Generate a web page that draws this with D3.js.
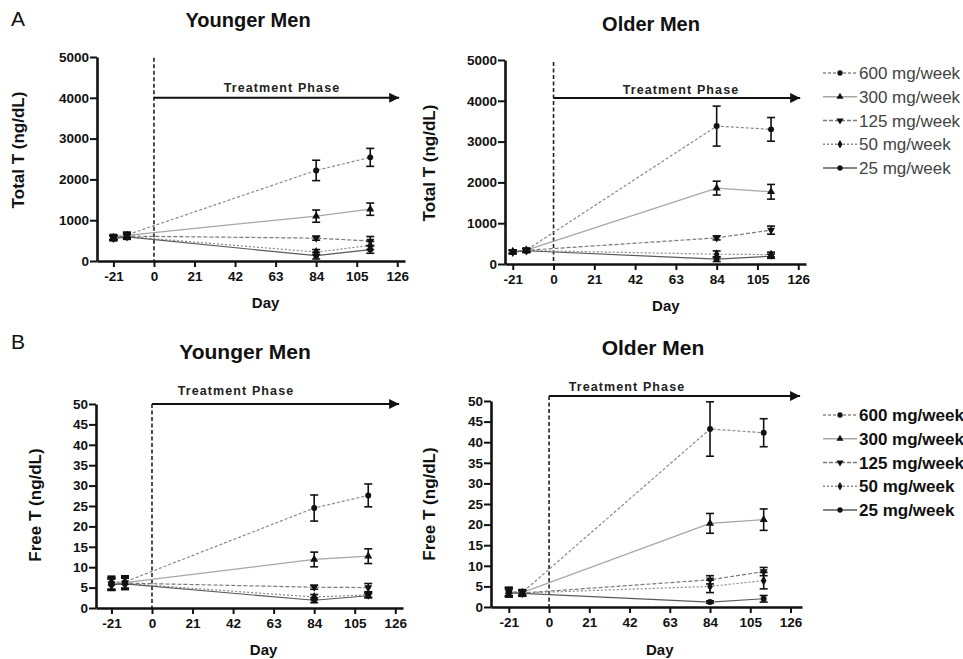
<!DOCTYPE html>
<html>
<head>
<meta charset="utf-8">
<script src="https://cdn.jsdelivr.net/npm/d3@7"></script>
<style>
  body { margin: 0; background: #fff; }
  svg { font-family: "Liberation Sans", Arial, sans-serif; }
  .axis path, .axis line { stroke: #111; }
  .axis text { font-size: 13.5px; font-weight: bold; fill: #111; font-family: "Liberation Sans", Arial, sans-serif; }
</style>
</head>
<body>
<svg id="chart" width="963" height="659"></svg>
<script>
const W = 963, H = 659;

const DOSES = ["600 mg/week", "300 mg/week", "125 mg/week", "50 mg/week", "25 mg/week"];
const DAYS = [-21, -14, 84, 112];
const X_TICKS = [-21, 0, 21, 42, 63, 84, 105, 126];
const TOTAL_TICKS = [0, 1000, 2000, 3000, 4000, 5000];
const FREE_TICKS = [0, 5, 10, 15, 20, 25, 30, 35, 40, 45, 50];

// Total T, younger men (ng/dL) - rows follow DOSES, columns follow DAYS
const totalYoungMean = [
    [590, 640, 2220, 2540],
    [580, 630, 1100, 1270],
    [570, 610, 560, 490],
    [560, 600, 220, 380],
    [550, 590, 130, 280]
];
const totalYoungErr = [
    [60, 70, 250, 220],
    [55, 60, 150, 150],
    [55, 60, 50, 110],
    [55, 60, 60, 100],
    [55, 60, 80, 90]
];

// Total T, older men
const totalOldMean = [
    [300, 340, 3380, 3300],
    [300, 340, 1860, 1770],
    [300, 335, 640, 830],
    [295, 330, 240, 230],
    [290, 325, 120, 190]
];
const totalOldErr = [
    [40, 45, 490, 290],
    [40, 45, 170, 180],
    [40, 45, 50, 100],
    [40, 45, 80, 60],
    [40, 45, 60, 50]
];

// Free T, younger men
const freeYoungMean = [
    [6.2, 6.4, 24.5, 27.6],
    [6.0, 6.2, 11.9, 12.7],
    [5.9, 6.1, 5.1, 5.0],
    [5.8, 6.0, 2.7, 3.2],
    [5.7, 5.9, 1.9, 3.0]
];
const freeYoungErr = [
    [1.6, 1.5, 3.2, 2.8],
    [1.5, 1.5, 1.8, 1.8],
    [1.4, 1.4, 0.5, 1.0],
    [1.4, 1.4, 0.6, 0.6],
    [1.4, 1.4, 0.6, 0.5]
];

// Free T, older men
const freeOldMean = [
    [3.8, 3.5, 43.2, 42.3],
    [3.7, 3.5, 20.3, 21.2],
    [3.6, 3.4, 6.6, 8.6],
    [3.5, 3.4, 5.0, 6.4],
    [3.4, 3.3, 1.2, 2.0]
];
const freeOldErr = [
    [1.0, 0.7, 6.6, 3.4],
    [1.0, 0.7, 2.4, 2.6],
    [1.0, 0.7, 1.0, 1.0],
    [1.0, 0.7, 1.5, 2.0],
    [1.0, 0.7, 0.3, 0.8]
];

// line / marker styles per dose
const STYLES = [
    {stroke: "#8a8a8a", dash: "3,2", sym: d3.symbolCircle, rot: 0},
    {stroke: "#a6a6a6", dash: null, sym: d3.symbolTriangle, rot: 0},
    {stroke: "#7a7a7a", dash: "4,2", sym: d3.symbolTriangle, rot: 180},
    {stroke: "#8a8a8a", dash: "2,2", sym: d3.symbolDiamond, rot: 0},
    {stroke: "#5a5a5a", dash: null, sym: d3.symbolCircle, rot: 0}
];

const panels = [
    {mean: totalYoungMean, err: totalYoungErr, ticks: TOTAL_TICKS, yMax: 5000,
     left: 97, right: 405, top: 57, bottom: 261, dMin: -29.5, dMax: 130,
     title: "Younger Men", titleX: 248, titleY: 27, titleSize: 20,
     yLabel: "Total T (ng/dL)", yLabelX: 24, yLabelY: 150,
     dayY: 308, arrowY: 4000, lineTop: 4980, tpX: 282, tpY: 92, arrowEnd: 127},
    {mean: totalOldMean, err: totalOldErr, ticks: TOTAL_TICKS, yMax: 5000,
     left: 505, right: 806, top: 60, bottom: 264, dMin: -25, dMax: 130,
     title: "Older Men", titleX: 651, titleY: 31, titleSize: 20,
     yLabel: "Total T (ng/dL)", yLabelX: 435, yLabelY: 163,
     dayY: 311, arrowY: 4070, lineTop: 4950, tpX: 681, tpY: 94, arrowEnd: 127},
    {mean: freeYoungMean, err: freeYoungErr, ticks: FREE_TICKS, yMax: 50,
     left: 96, right: 403, top: 404, bottom: 608, dMin: -29, dMax: 130,
     title: "Younger Men", titleX: 245, titleY: 359, titleSize: 21,
     yLabel: "Free T (ng/dL)", yLabelX: 41, yLabelY: 505,
     dayY: 655, arrowY: 50, lineTop: 50, tpX: 236, tpY: 395, arrowEnd: 128},
    {mean: freeOldMean, err: freeOldErr, ticks: FREE_TICKS, yMax: 50,
     left: 491, right: 802, top: 401, bottom: 607, dMin: -30.3, dMax: 132,
     title: "Older Men", titleX: 653, titleY: 355, titleSize: 21,
     yLabel: "Free T (ng/dL)", yLabelX: 435, yLabelY: 504,
     dayY: 655, arrowY: 51.2, lineTop: 51.2, tpX: 627, tpY: 391, arrowEnd: 131}
];

const svg = d3.select("#chart");

svg.append("defs").append("marker")
    .attr("id", "arrowhead")
    .attr("viewBox", "0 0 10 10")
    .attr("refX", 10).attr("refY", 5)
    .attr("markerWidth", 6).attr("markerHeight", 5)
    .attr("markerUnits", "strokeWidth")
    .attr("orient", "auto")
    .append("path")
    .attr("d", "M0,0 L10,5 L0,10 Z")
    .attr("fill", "#111");

for (const p of panels) {
    drawPanel(p);
}

function drawPanel(p) {
    const xScale = d3.scaleLinear().domain([p.dMin, p.dMax]).range([p.left, p.right]);
    const yScale = d3.scaleLinear().domain([0, p.yMax]).range([p.bottom, p.top]);
    const g = svg.append("g");
    const plain = d => String(d);

    // axes
    g.append("g")
        .attr("class", "axis")
        .attr("transform", `translate(${p.left},0)`)
        .call(d3.axisLeft(yScale).tickValues(p.ticks).tickFormat(plain)
            .tickSize(7).tickSizeOuter(0).tickPadding(1));
    g.append("g")
        .attr("class", "axis")
        .attr("transform", `translate(0,${p.bottom})`)
        .call(d3.axisBottom(xScale).tickValues(X_TICKS).tickFormat(plain)
            .tickSize(6).tickSizeOuter(0).tickPadding(4));
    g.selectAll(".axis .domain").attr("stroke-width", 2.6);
    g.selectAll(".axis .tick line").attr("stroke-width", 2);

    // dashed start-of-treatment line
    g.append("line")
        .attr("x1", xScale(0)).attr("x2", xScale(0))
        .attr("y1", yScale(p.lineTop)).attr("y2", p.bottom)
        .attr("stroke", "#222")
        .attr("stroke-width", 1.6)
        .attr("stroke-dasharray", "4,2.5");

    // treatment phase arrow
    g.append("line")
        .attr("x1", xScale(0)).attr("x2", xScale(p.arrowEnd))
        .attr("y1", yScale(p.arrowY)).attr("y2", yScale(p.arrowY))
        .attr("stroke", "#111")
        .attr("stroke-width", 2)
        .attr("marker-end", "url(#arrowhead)");
    g.append("text")
        .attr("x", p.tpX).attr("y", p.tpY)
        .attr("text-anchor", "middle")
        .attr("font-size", 12.5)
        .attr("font-weight", "bold")
        .attr("letter-spacing", 1.1)
        .attr("fill", "#222")
        .text("Treatment Phase");

    // series lines
    const line = d3.line().x(d => xScale(d.day)).y(d => yScale(d.v));
    p.mean.forEach((row, i) => {
        const pts = DAYS.map((day, j) => ({day: day, v: row[j], e: p.err[i][j]}));
        const st = STYLES[i];
        g.append("path")
            .datum(pts)
            .attr("fill", "none")
            .attr("stroke", st.stroke)
            .attr("stroke-width", 1.2)
            .attr("stroke-dasharray", st.dash)
            .attr("d", line);
    });

    // error bars and markers on top
    p.mean.forEach((row, i) => {
        const pts = DAYS.map((day, j) => ({day: day, v: row[j], e: p.err[i][j]}));
        const st = STYLES[i];
        const eb = g.append("g");
        for (const d of pts) {
            const x = xScale(d.day);
            const yT = yScale(d.v + d.e), yB = yScale(Math.max(0, d.v - d.e));
            eb.append("line").attr("x1", x).attr("x2", x).attr("y1", yT).attr("y2", yB)
                .attr("stroke", "#111").attr("stroke-width", 1.6);
            eb.append("line").attr("x1", x - 4).attr("x2", x + 4).attr("y1", yT).attr("y2", yT)
                .attr("stroke", "#111").attr("stroke-width", 1.6);
            eb.append("line").attr("x1", x - 4).attr("x2", x + 4).attr("y1", yB).attr("y2", yB)
                .attr("stroke", "#111").attr("stroke-width", 1.6);
        }
        g.selectAll(null)
            .data(pts)
            .enter().append("path")
            .attr("transform", d => `translate(${xScale(d.day)},${yScale(d.v)}) rotate(${st.rot})`)
            .attr("d", d3.symbol(st.sym, 28))
            .attr("fill", "#111");
    });

    // titles and labels
    svg.append("text")
        .attr("x", p.titleX).attr("y", p.titleY)
        .attr("text-anchor", "middle")
        .attr("font-size", p.titleSize)
        .attr("font-weight", "bold")
        .attr("fill", "#111")
        .text(p.title);
    svg.append("text")
        .attr("transform", `translate(${p.yLabelX},${p.yLabelY}) rotate(-90)`)
        .attr("text-anchor", "middle")
        .attr("font-size", 17)
        .attr("font-weight", "bold")
        .attr("fill", "#111")
        .text(p.yLabel);
    svg.append("text")
        .attr("x", (xScale(0) + xScale(126)) / 2 - 10).attr("y", p.dayY)
        .attr("text-anchor", "middle")
        .attr("font-size", 15)
        .attr("font-weight", "bold")
        .attr("fill", "#111")
        .text("Day");
}

// panel letters
svg.append("text").attr("x", 11).attr("y", 26).attr("font-size", 21).attr("fill", "#111").text("A");
svg.append("text").attr("x", 11).attr("y", 349).attr("font-size", 21).attr("fill", "#111").text("B");

// legends
drawLegend(73, false, "#444");
drawLegend(415, true, "#111");

function drawLegend(top, bold, color) {
    const rowY = d3.scalePoint().domain(DOSES).range([top, top + 95]);
    const lg = svg.append("g");
    DOSES.forEach((name, i) => {
        const st = STYLES[i];
        const y = rowY(name);
        lg.append("line")
            .attr("x1", 823).attr("x2", 857).attr("y1", y).attr("y2", y)
            .attr("stroke", st.stroke)
            .attr("stroke-width", 1.3)
            .attr("stroke-dasharray", st.dash);
        lg.append("path")
            .attr("transform", `translate(840,${y}) rotate(${st.rot})`)
            .attr("d", d3.symbol(st.sym, 22))
            .attr("fill", "#111");
        lg.append("text")
            .attr("x", 859).attr("y", y)
            .attr("dy", "0.36em")
            .attr("font-size", 17)
            .attr("font-weight", bold ? "bold" : "normal")
            .attr("fill", color)
            .text(name);
    });
}
</script>
</body>
</html>
